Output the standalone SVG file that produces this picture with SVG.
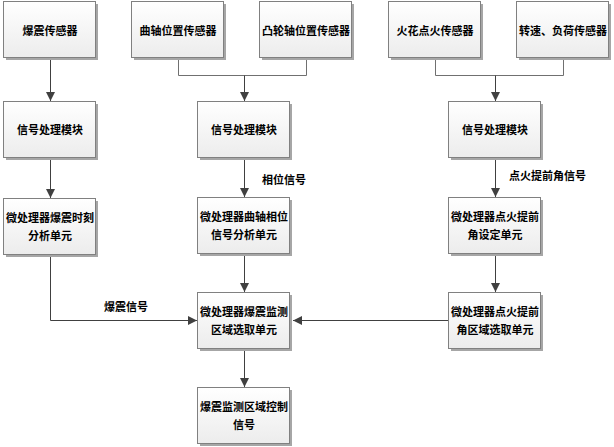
<svg xmlns="http://www.w3.org/2000/svg" width="614" height="447" viewBox="0 0 614 447">
<style>
.box rect.b{fill:url(#g);stroke:#808080;stroke-width:1}
.box rect.s{fill:#a6a6a6}
text{font-family:"Noto Sans CJK SC","Liberation Sans",sans-serif;font-size:11px;font-weight:bold;fill:#000;text-anchor:middle;dominant-baseline:central}
.lbl{text-anchor:start}
.c{fill:none;stroke:#404040;stroke-width:1}
.c2{fill:none;stroke:#707070;stroke-width:1}
</style>
<defs>
<linearGradient id="g" x1="0" y1="0" x2="0" y2="1">
<stop offset="0" stop-color="#ffffff"/>
<stop offset="1" stop-color="#ececec"/>
</linearGradient>
<marker id="ah" viewBox="0 0 10 10" refX="10" refY="5" markerWidth="9" markerHeight="9" markerUnits="userSpaceOnUse" orient="auto">
<path d="M0,0 L10,5 L0,10 Z" fill="#404040"/>
</marker>
</defs>

<g id="connectors">
<path class="c" d="M50.5,58 V101" marker-end="url(#ah)"/>
<path class="c2" d="M178.5,58 V75.5 H306.5 V58"/>
<path class="c" d="M244.5,75.5 V101" marker-end="url(#ah)"/>
<path class="c2" d="M435.5,58 V75.5 H563.5 V58"/>
<path class="c" d="M495.5,75.5 V101" marker-end="url(#ah)"/>
<path class="c" d="M50.5,157 V198" marker-end="url(#ah)"/>
<path class="c" d="M244.5,157 V197" marker-end="url(#ah)"/>
<path class="c" d="M495.5,157 V197" marker-end="url(#ah)"/>
<path class="c" d="M50.5,256 V320.5 H197" marker-end="url(#ah)"/>
<path class="c" d="M244.5,253 V292" marker-end="url(#ah)"/>
<path class="c" d="M495.5,253 V292" marker-end="url(#ah)"/>
<path class="c" d="M448,320.5 H293" marker-end="url(#ah)"/>
<path class="c" d="M244.5,348 V387" marker-end="url(#ah)"/>
<text class="lbl" x="262" y="179">相位信号</text>
<text class="lbl" x="509" y="175">点火提前角信号</text>
<text class="lbl" x="104" y="306">爆震信号</text>
</g>

<g id="n1" class="box"><rect class="s" x="6" y="4" width="92" height="56"/><rect class="b" x="3.5" y="1.5" width="92" height="56"/><text x="50" y="30">爆震传感器</text></g>
<g id="n2" class="box"><rect class="s" x="134" y="4" width="92" height="56"/><rect class="b" x="131.5" y="1.5" width="92" height="56"/><text x="178" y="30">曲轴位置传感器</text></g>
<g id="n3" class="box"><rect class="s" x="262" y="4" width="92" height="56"/><rect class="b" x="259.5" y="1.5" width="92" height="56"/><text x="306" y="30">凸轮轴位置传感器</text></g>
<g id="n4" class="box"><rect class="s" x="391" y="4" width="92" height="56"/><rect class="b" x="388.5" y="1.5" width="92" height="56"/><text x="435" y="30">火花点火传感器</text></g>
<g id="n5" class="box"><rect class="s" x="519" y="4" width="92" height="56"/><rect class="b" x="516.5" y="1.5" width="92" height="56"/><text x="563" y="30">转速、负荷传感器</text></g>

<g id="n6" class="box"><rect class="s" x="6" y="104" width="92" height="56"/><rect class="b" x="3.5" y="101.5" width="92" height="56"/><text x="50" y="129">信号处理模块</text></g>
<g id="n7" class="box"><rect class="s" x="200" y="104" width="92" height="56"/><rect class="b" x="197.5" y="101.5" width="92" height="56"/><text x="244" y="129">信号处理模块</text></g>
<g id="n8" class="box"><rect class="s" x="451" y="104" width="92" height="56"/><rect class="b" x="448.5" y="101.5" width="92" height="56"/><text x="495" y="129">信号处理模块</text></g>

<g id="n9" class="box"><rect class="s" x="6" y="201" width="92" height="56"/><rect class="b" x="3.5" y="198.5" width="92" height="56"/><text x="50" y="217">微处理器爆震时刻</text><text x="50" y="235">分析单元</text></g>
<g id="n10" class="box"><rect class="s" x="200" y="200" width="92" height="56"/><rect class="b" x="197.5" y="197.5" width="92" height="56"/><text x="244" y="216">微处理器曲轴相位</text><text x="244" y="234">信号分析单元</text></g>
<g id="n11" class="box"><rect class="s" x="451" y="200" width="92" height="56"/><rect class="b" x="448.5" y="197.5" width="92" height="56"/><text x="495" y="216">微处理器点火提前</text><text x="495" y="234">角设定单元</text></g>

<g id="n12" class="box"><rect class="s" x="200" y="295" width="92" height="56"/><rect class="b" x="197.5" y="292.5" width="92" height="56"/><text x="244" y="311">微处理器爆震监测</text><text x="244" y="329">区域选取单元</text></g>
<g id="n13" class="box"><rect class="s" x="451" y="295" width="92" height="56"/><rect class="b" x="448.5" y="292.5" width="92" height="56"/><text x="495" y="311">微处理器点火提前</text><text x="495" y="329">角区域选取单元</text></g>

<g id="n14" class="box"><rect class="s" x="200" y="390" width="92" height="56"/><rect class="b" x="197.5" y="387.5" width="92" height="56"/><text x="244" y="406">爆震监测区域控制</text><text x="244" y="424">信号</text></g>
</svg>
